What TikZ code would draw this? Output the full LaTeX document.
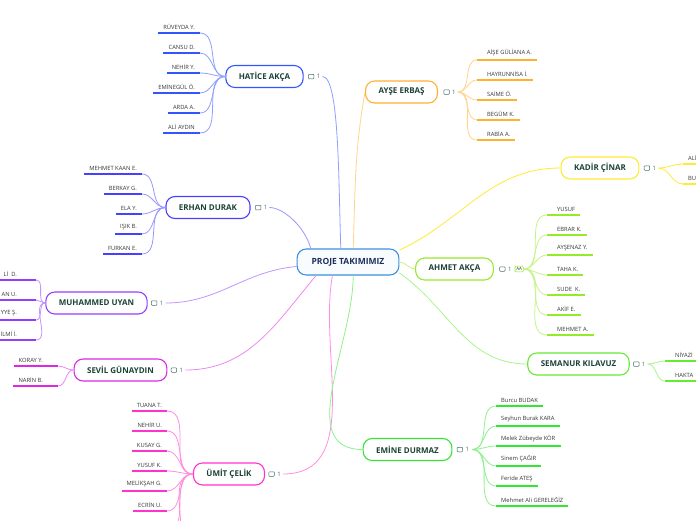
\documentclass[tikz,border=0pt]{standalone}
\usepackage{fontspec}
\setmainfont{Open Sans}
\usetikzlibrary{positioning}
\definecolor{rootblue}{RGB}{61,143,224}
\definecolor{rootink}{RGB}{30,46,92}
\definecolor{topink}{RGB}{27,66,56}
\definecolor{leafink}{RGB}{55,55,55}
\definecolor{cmtink}{RGB}{70,110,100}
\definecolor{hatcol}{RGB}{51,85,255}
\definecolor{aycol}{RGB}{255,176,48}
\definecolor{ercol}{RGB}{72,64,255}
\definecolor{mucol}{RGB}{150,60,255}
\definecolor{secol}{RGB}{220,40,230}
\definecolor{umcol}{RGB}{255,50,205}
\definecolor{ahcol}{RGB}{150,235,40}
\definecolor{kacol}{RGB}{255,235,50}
\definecolor{smcol}{RGB}{100,235,50}
\definecolor{emcol}{RGB}{50,230,50}

\begin{document}
\begin{tikzpicture}[
  x=1pt, y=-1pt,
  topic/.style={draw, line width=1.1pt, fill=white, rounded corners=9pt, minimum height=22pt,
                inner xsep=13pt, text=topink, font=\fontsize{8}{9}\selectfont\bfseries},
  leaf/.style={inner xsep=5pt, inner ysep=3.5pt, text=leafink, font=\fontsize{5.8}{6.5}\selectfont},
  bubble/.style={draw=cmtink, line width=0.5pt, rounded corners=0.8pt, minimum width=5.5pt,
                 minimum height=4.5pt, inner sep=0pt},
  cnt/.style={inner sep=0pt, text=cmtink, font=\fontsize{6}{7}\selectfont,
              label={[bubble,label distance=2.5pt]left:{}}},
  link/.style={line width=0.8pt},
  uline/.style={line width=1.6pt},
]
  \useasboundingbox (0,0) rectangle (696,520);
  \clip (0,0) rectangle (696,520);
  \fill[white] (0,0) rectangle (696,520);

  % Central topic
  \node[topic, draw=rootblue, fill=rootblue!3, text=rootink, minimum height=26pt,
        inner xsep=14.5pt, font=\fontsize{8.5}{10}\selectfont\bfseries] (root) at (348,262) {PROJE TAKIMIMIZ};

  % Hatice
  \node[topic, draw=hatcol] (hat) at (264.5,76.5) {HATİCE AKÇA};
  \node[cnt, right=13pt of hat] (hatc) {1};
  \foreach \name [count=\i] in {RÜVEYDA Y.,CANSU D.,NEHİR Y.,EMİNEGÜL Ö.,ARDA A.,ALİ AYDIN} {
    \node[leaf, anchor=south east] (hat\i) at (200,{13+20*\i}) {\name};
    \draw[link, hatcol!55] (hat.west) to[out=180,in=0] (hat\i.south east);
    \draw[uline, hatcol] (hat\i.south west) -- (hat\i.south east);
  }

  % Ayse
  \node[topic, draw=aycol] (ay) at (401.5,92) {AYŞE ERBAŞ};
  \node[cnt, right=14pt of ay] (ayc) {1};
  \foreach \name [count=\i] in {AİŞE GÜLİANA A.,HAYRUNNİSA İ.,SAİME Ö.,BEGÜM K.,RABİA A.} {
    \node[leaf, anchor=south west] (ay\i) at (482,{40+20*\i}) {\name};
    \draw[link, aycol!55] ([xshift=2pt]ayc.east) to[out=0,in=180] ([xshift=-5pt]ay\i.south west);
    \draw[uline, aycol] ([xshift=-5pt]ay\i.south west) -- (ay\i.south east);
  }

  % Erhan
  \node[topic, draw=ercol] (er) at (208,207.5) {ERHAN DURAK};
  \node[cnt, right=13pt of er] (erc) {1};
  \foreach \name [count=\i] in {MEHMET KAAN E.,BERKAY G.,ELA Y.,IŞIK B.,FURKAN E.} {
    \node[leaf, anchor=south east] (er\i) at (142,{154+20*\i}) {\name};
    \draw[link, ercol!55] (er.west) to[out=180,in=0] (er\i.south east);
    \draw[uline, ercol] (er\i.south west) -- (er\i.south east);
  }

  % Muhammed
  \node[topic, draw=mucol] (mu) at (96.5,303) {MUHAMMED UYAN};
  \node[cnt, right=12pt of mu] (muc) {1};
  \foreach \name [count=\i] in {Lİ~~D.,AN U.,YYE Ş.,İLMİ İ.} {
    \node[leaf, anchor=south east] (mu\i) at (22,{260+20*\i}) {\name};
    \draw[link, mucol!55] (mu.west) to[out=180,in=0] ([xshift=14pt]mu\i.south east);
    \draw[uline, mucol] ([xshift=-10pt]mu\i.south west) -- ([xshift=14pt]mu\i.south east);
  }

  % Sevil
  \node[topic, draw=secol] (se) at (120.5,370) {SEVİL GÜNAYDIN};
  \node[cnt, right=12pt of se] (sec) {1};
  \foreach \name [count=\i] in {KORAY Y.,NARİN B.} {
    \node[leaf, anchor=south east] (se\i) at (48,{346+20*\i}) {\name};
    \draw[link, secol!55] (se.west) to[out=180,in=0] ([xshift=10pt]se\i.south east);
    \draw[uline, secol] (se\i.south west) -- ([xshift=10pt]se\i.south east);
  }

  % Umit
  \node[topic, draw=umcol] (um) at (229,474) {ÜMİT ÇELİK};
  \node[cnt, right=12pt of um] (umc) {1};
  \foreach \name [count=\i] in {TUANA T.,NEHİR U.,KUSAY G.,YUSUF K.,MELİKŞAH G.,ECRİN U.} {
    \node[leaf, anchor=south east] (um\i) at (167,{391+20*\i}) {\name};
    \draw[link, umcol!55] (um.west) to[out=180,in=0] (um\i.south east);
    \draw[uline, umcol] (um\i.south west) -- (um\i.south east);
  }
  \coordinate (um7) at (167,531);
  \coordinate (um8) at (167,551);
  \foreach \i in {7,8}
    \draw[link, umcol!55] (um.west) to[out=180,in=0] (um\i);

  % Ahmet
  \node[topic, draw=ahcol] (ah) at (454.5,269) {AHMET AKÇA};
  \node[cnt, right=14pt of ah] (ahc) {1};
  \node[draw=ahcol, line width=0.6pt, rounded corners=1pt, inner sep=1.3pt, text=topink,
        font=\fontsize{4.5}{5}\selectfont, right=3pt of ahc] (ahaa) {AA};
  \foreach \name [count=\i] in {YUSUF,EBRAR K.,AYŞENAZ Y.,TAHA K.,SUDE~~K.,AKİF E.,MEHMET A.} {
    \node[leaf, anchor=south west] (ah\i) at (552,{195+20*\i}) {\name};
    \draw[link, ahcol!55] (ahaa.east) to[out=0,in=180] ([xshift=-5pt]ah\i.south west);
    \draw[uline, ahcol] ([xshift=-5pt]ah\i.south west) -- (ah\i.south east);
  }

  % Kadir
  \node[topic, draw=kacol] (ka) at (600,168) {KADİR ÇİNAR};
  \node[cnt, right=13pt of ka] (kac) {1};
  \foreach \name [count=\i] in {ALİ,BU} {
    \node[leaf, anchor=south west] (ka\i) at (683,{144+20*\i}) {\name};
    \draw[link, kacol] ([xshift=2pt]kac.east) to[out=0,in=180] (ka\i.south west);
    \draw[uline, kacol] (ka\i.south west) -- ([xshift=30pt]ka\i.south east);
  }

  % Semanur
  \node[topic, draw=smcol] (sm) at (578.5,364) {SEMANUR KILAVUZ};
  \node[cnt, right=12pt of sm] (smc) {1};
  \foreach \name [count=\i] in {NİYAZİ,HAKTA} {
    \node[leaf, anchor=south west] (sm\i) at (670,{341+20*\i}) {\name};
    \draw[link, smcol!55] ([xshift=2pt]smc.east) to[out=0,in=180] ([xshift=-5pt]sm\i.south west);
    \draw[uline, smcol] ([xshift=-5pt]sm\i.south west) -- ([xshift=30pt]sm\i.south east);
  }

  % Emine
  \node[topic, draw=emcol] (em) at (407.5,449.5) {EMİNE DURMAZ};
  \node[cnt, right=13pt of em] (emc) {1};
  \foreach \name [count=\i] in {Burcu BUDAK,Seyhun Burak KARA,Melek Zübeyde KÖR,Sinem ÇAĞIR,Feride ATEŞ,Mehmet Ali GERELEĞİZ} {
    \node[leaf, anchor=south west] (em\i) at (496,{386+20*\i}) {\name};
    \draw[link, emcol!55] ([xshift=3pt]emc.east) to[out=0,in=180] (em\i.south west);
    \draw[uline, emcol] (em\i.south west) -- (em\i.south east);
  }

  % Main branches
  \draw[link, hatcol!55] (root.118) to[out=92,in=0,in looseness=0.25] ([xshift=2pt]hatc.east);
  \draw[link, aycol!55] (root.69) to[out=88,in=-100] (ay.west);
  \draw[link, ercol!55] (root.160) to[out=105,in=0,in looseness=0.6] ([xshift=2pt]erc.east);
  \draw[link, mucol!55] (root.185) to[out=185,in=0] ([xshift=2pt]muc.east);
  \draw[link, secol!55] (root.203) to[out=-130,in=0] ([xshift=2pt]sec.east);
  \draw[link, umcol!55] (root.221) to[out=-100,in=0] ([xshift=2pt]umc.east);
  \draw[link, kacol] (root.13) to[out=25,in=180] (ka.west);
  \draw[link, ahcol!55] (root.east) to[out=0,in=180] (ah.west);
  \draw[link, smcol!55] (root.-12) to[out=-35,in=180] (sm.west);
  \draw[link, emcol!55] (root.-69) to[out=-90,in=180] (em.west);
\end{tikzpicture}
\end{document}
